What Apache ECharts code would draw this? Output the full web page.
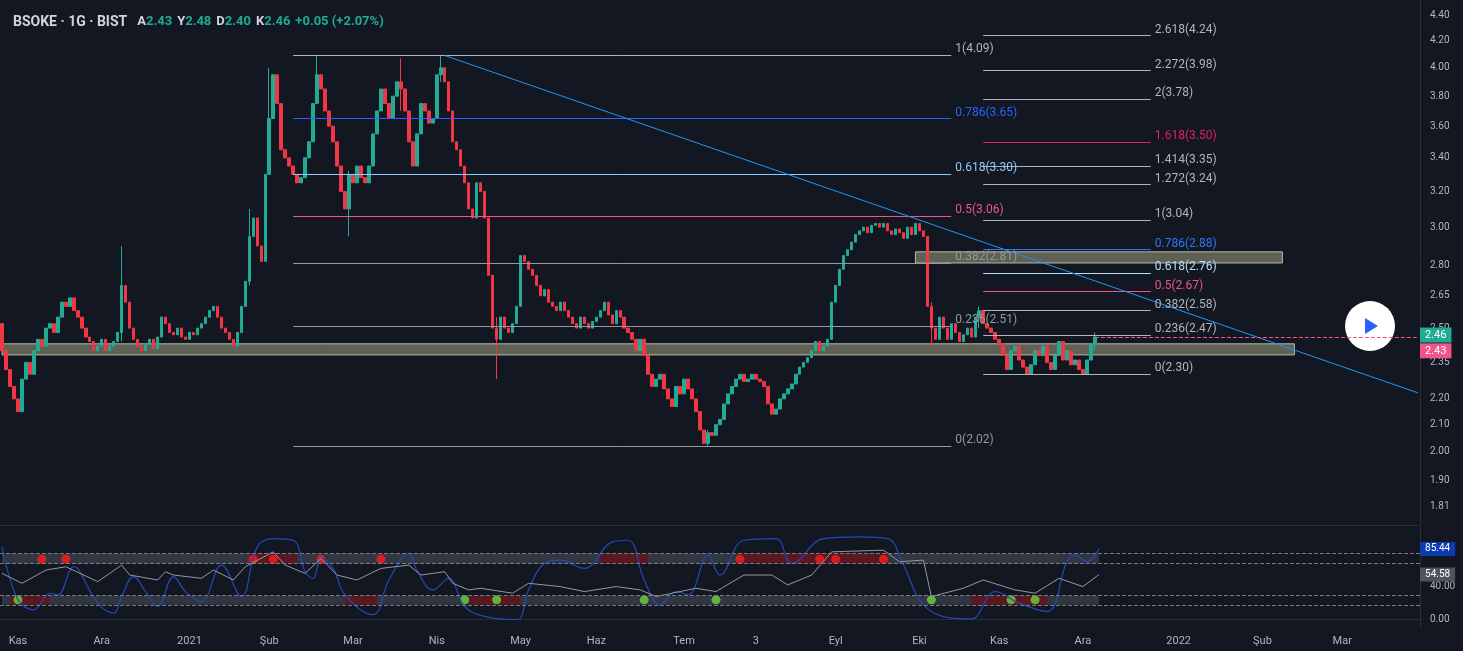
<!DOCTYPE html>
<html><head><meta charset="utf-8">
<script src="https://cdn.jsdelivr.net/npm/echarts@6/dist/echarts.min.js"></script>
<style>html,body{margin:0;background:#131722;}#c{width:1463px;height:651px;}</style>
</head><body><div id="c"></div>
<script>
const closes = [
2.40,2.32,2.25,2.20,2.15,2.28,2.35,2.30,2.40,2.45,
2.42,2.50,2.52,2.48,2.55,2.62,2.60,2.64,2.58,2.55,
2.50,2.46,2.44,2.40,2.42,2.45,2.40,2.42,2.44,2.48,
2.70,2.62,2.50,2.45,2.42,2.40,2.43,2.45,2.41,2.46,
2.55,2.52,2.48,2.47,2.50,2.46,2.45,2.48,2.47,2.50,
2.52,2.55,2.58,2.60,2.55,2.50,2.48,2.45,2.42,2.48,
2.60,2.72,2.95,3.05,2.90,2.82,3.30,3.65,3.95,3.75,
3.45,3.40,3.35,3.30,3.25,3.28,3.40,3.50,3.75,3.95,
3.85,3.70,3.60,3.50,3.35,3.20,3.10,3.30,3.25,3.35,
3.28,3.25,3.35,3.55,3.70,3.85,3.75,3.65,3.80,3.90,
3.85,3.70,3.50,3.35,3.55,3.75,3.70,3.62,3.65,3.95,
4.00,3.90,3.70,3.50,3.45,3.35,3.25,3.10,3.05,3.25,
3.20,3.05,2.75,2.50,2.45,2.55,2.50,2.48,2.52,2.60,
2.85,2.82,2.78,2.75,2.70,2.65,2.68,2.62,2.60,2.58,
2.62,2.58,2.55,2.52,2.50,2.55,2.52,2.50,2.53,2.55,
2.58,2.62,2.56,2.52,2.58,2.55,2.50,2.48,2.45,2.40,
2.45,2.38,2.30,2.25,2.28,2.30,2.24,2.20,2.17,2.25,
2.22,2.28,2.24,2.20,2.15,2.08,2.03,2.07,2.06,2.10,
2.12,2.18,2.22,2.25,2.28,2.30,2.27,2.28,2.30,2.28,
2.27,2.25,2.18,2.14,2.16,2.20,2.22,2.24,2.26,2.30,
2.33,2.35,2.37,2.40,2.44,2.40,2.42,2.45,2.62,2.70,
2.78,2.85,2.88,2.92,2.96,2.98,3.00,2.97,3.01,3.02,
3.00,3.02,2.98,2.96,2.99,2.97,2.94,3.00,2.96,3.02,
2.98,2.95,2.60,2.50,2.45,2.55,2.50,2.45,2.52,2.48,
2.44,2.47,2.50,2.46,2.55,2.58,2.52,2.50,2.48,2.45,
2.43,2.38,2.32,2.40,2.42,2.36,2.33,2.30,2.34,2.40,
2.38,2.42,2.35,2.32,2.38,2.44,2.36,2.40,2.34,2.36,
2.32,2.30,2.36,2.43,2.46];
const firstOpen = 2.52;
// notable wicks: [index, low, high]
const wicks = [[30,2.44,2.90],[62,2.70,3.10],[67,3.30,4.0],[79,3.75,4.09],[87,2.95,3.32],[100,3.70,4.07],[110,3.90,4.09],[124,2.28,2.55],[177,2.02,2.08],[233,2.42,2.62],[245,2.50,2.60],[274,2.40,2.48]];
const totalSlots = 356;
const monthTicks = {4:'Kas',25:'Ara',47:'2021',67:'Şub',88:'Mar',109:'Nis',130:'May',149:'Haz',171:'Tem',189:'3',209:'Eyl',230:'Eki',250:'Kas',271:'Ara',295:'2022',316:'Şub',336:'Mar'};
const priceTicks = [1.81,1.90,2.00,2.10,2.20,2.35,2.50,2.65,2.80,3.00,3.20,3.40,3.60,3.80,4.00,4.20,4.40];
const fibLeft = [['1(4.09)',4.09,'#b2b5be'],['0.786(3.65)',3.65,'#2962ff'],['0.618(3.30)',3.30,'#90caf9'],['0.5(3.06)',3.06,'#f0548a'],['0.382(2.81)',2.81,'#9598a1'],['0.236(2.51)',2.51,'#9598a1'],['0(2.02)',2.02,'#9598a1']];
const fibRight = [['2.618(4.24)',4.24,'#b2b5be'],['2.272(3.98)',3.98,'#b2b5be'],['2(3.78)',3.78,'#b2b5be'],['1.618(3.50)',3.50,'#e91e63'],['1.414(3.35)',3.35,'#b2b5be'],['1.272(3.24)',3.24,'#b2b5be'],['1(3.04)',3.04,'#b2b5be'],['0.786(2.88)',2.88,'#2979ff'],['0.618(2.76)',2.76,'#bbdefb'],['0.5(2.67)',2.67,'#f0548a'],['0.382(2.58)',2.58,'#b2b5be'],['0.236(2.47)',2.47,'#b2b5be'],['0(2.30)',2.30,'#b2b5be']];
const blueOsc = [[0,88],[4,24],[8,12],[12,32],[14,30],[18,64],[19,62],[24,20],[28,8],[30,28],[33,52],[36,34],[39,16],[43,52],[46,34],[50,22],[55,66],[60,28],[64,88],[68,98],[73,96],[76,58],[78,50],[80,74],[83,62],[86,30],[93,6],[97,48],[102,80],[104,60],[108,36],[112,50],[116,16],[121,4],[129,0],[132,36],[136,68],[140,72],[146,62],[153,94],[157,96],[161,48],[165,18],[169,34],[172,30],[177,78],[180,54],[186,96],[194,98],[198,68],[206,98],[215,100],[222,98],[226,66],[231,18],[238,2],[243,1],[249,34],[255,20],[262,10],[267,70],[269,78],[272,70],[275,86]];
const grayRsi = [[0,56],[5,44],[11,60],[16,64],[24,46],[30,66],[32,54],[39,48],[41,58],[43,54],[50,50],[53,60],[58,48],[61,64],[68,82],[71,66],[76,56],[80,74],[84,54],[89,48],[95,62],[102,66],[105,54],[111,58],[113,44],[117,36],[120,38],[128,32],[132,44],[140,40],[146,34],[154,40],[160,36],[164,28],[174,38],[179,34],[186,54],[193,54],[197,42],[203,54],[208,82],[221,84],[225,70],[231,72],[233,28],[241,38],[246,48],[254,36],[259,32],[265,50],[271,40],[275,54.58]];
const redDots = [[10,73],[16,73],[63,73],[68,73],[80,73],[95,73],[185,73],[205,73],[209,73],[221,73]];
const greenDots = [[4,24],[116,24],[124,24],[161,24],[179,24],[233,24],[253,24],[259,24]];

const cats = Array.from({length: totalSlots}, (_, i) => String(i));
const ohlc = closes.map((c, i) => {
  const o = i === 0 ? firstOpen : closes[i - 1];
  return [o, c, Math.min(o, c), Math.max(o, c)];
});
wicks.forEach(([i, l, h]) => { ohlc[i][2] = Math.min(ohlc[i][2], l); ohlc[i][3] = Math.max(ohlc[i][3], h); });
const last = closes.length - 1;

const lblUp = (t, col) => ({show: true, formatter: t, color: col, fontSize: 12, fontFamily: 'Roboto', position: 'end', distance: 4, offset: [0, -6]});
const tag = (t, bg, fs, dy) => ({show: true, position: 'end', distance: 2, offset: [0, dy || 0], formatter: t, color: '#fff', backgroundColor: bg, padding: [2, 5], fontSize: fs, fontFamily: 'Roboto'});
const hidden = {color: 'rgba(0,0,0,0)', width: 0, type: 'solid'};
const fibLines = [];
fibLeft.forEach(([t, p, col]) => fibLines.push([{coord: ['73', p], lineStyle: {color: col, width: 1, type: 'solid'}, label: lblUp(t, col)}, {coord: ['238', p]}]));
fibRight.forEach(([t, p, col]) => fibLines.push([{coord: ['246', p], lineStyle: {color: col, width: 1, type: 'solid'}, label: lblUp(t, col)}, {coord: ['288', p]}]));
fibLines.push([{coord: ['111', 4.09], lineStyle: {color: '#2196f3', width: 1, type: 'solid'}, label: {show: false}}, {coord: ['355', 2.224]}]);
fibLines.push([{coord: [String(last), 2.46], lineStyle: {color: '#f0548a', width: 1, type: 'dashed'}, label: tag('2.46', '#22ab94', 11, -2)}, {coord: ['355', 2.46]}]);
fibLines.push([{coord: ['300', 2.43], lineStyle: hidden, label: tag('2.43', '#f0548a', 11, 7)}, {coord: ['355', 2.43]}]);

const chart = echarts.init(document.getElementById('c'));
chart.setOption({
  backgroundColor: '#131722',
  animation: false,
  title: {left: 8, top: 8, text: '{n|BSOKE · 1G · BIST}  {k|A}{v|2.43} {k|Y}{v|2.48} {k|D}{v|2.40} {k|K}{v|2.46} {v|+0.05 (+2.07%)}',
    textStyle: {rich: {n: {color: '#d1d4dc', fontSize: 14, fontFamily: 'Roboto'}, k: {color: '#d1d4dc', fontSize: 13, fontFamily: 'Roboto'}, v: {color: '#22ab94', fontSize: 13, fontFamily: 'Roboto'}}}},
  grid: [{left: 0, right: 43, top: 0, height: 525}, {left: 0, right: 43, top: 527, height: 101}],
  xAxis: [
    {type: 'category', data: cats, gridIndex: 0, boundaryGap: true, axisLine: {show: true, onZero: false, lineStyle: {color: '#2a2e39'}}, axisTick: {show: false}, axisLabel: {show: false}, splitLine: {show: false}},
    {type: 'category', data: cats, gridIndex: 1, boundaryGap: true, axisLine: {show: true, lineStyle: {color: '#2a2e39'}}, axisTick: {show: false},
      axisLabel: {interval: (i) => monthTicks[i] !== undefined, formatter: (v) => monthTicks[+v] || '', color: '#b2b5be', fontSize: 11, fontFamily: 'Roboto', margin: 8}, splitLine: {show: false}}
  ],
  yAxis: [
    {type: 'log', gridIndex: 0, position: 'right', min: 1.752, max: 4.521, axisLine: {show: true, lineStyle: {color: '#2a2e39'}}, axisTick: {show: false}, splitLine: {show: false},
      axisLabel: {customValues: priceTicks, formatter: (v) => v.toFixed(2), color: '#b2b5be', fontSize: 10, fontFamily: 'Roboto', margin: 10}},
    {type: 'value', gridIndex: 1, position: 'right', min: -10, max: 112, axisLine: {show: true, lineStyle: {color: '#2a2e39'}}, axisTick: {show: false}, splitLine: {show: false},
      axisLabel: {customValues: [0, 40], formatter: (v) => v.toFixed(2), color: '#b2b5be', fontSize: 10, fontFamily: 'Roboto', margin: 10}}
  ],
  series: [
    {type: 'candlestick', xAxisIndex: 0, yAxisIndex: 0, data: ohlc, barWidth: 3,
      itemStyle: {color: '#22ab94', color0: '#f23645', borderColor: '#22ab94', borderColor0: '#f23645', borderWidth: 1},
      markLine: {silent: true, symbol: ['none', 'none'], data: fibLines},
      markArea: {silent: true, data: [
        [{coord: ['0', 2.43], itemStyle: {color: 'rgba(120,123,100,0.75)', borderColor: '#b8b8a8', borderWidth: 1}}, {coord: ['324', 2.382]}],
        [{coord: ['229', 2.869], itemStyle: {color: 'rgba(120,123,100,0.75)', borderColor: '#b8b8a8', borderWidth: 1}}, {coord: ['321', 2.812]}]
      ]}},
    {type: 'line', xAxisIndex: 1, yAxisIndex: 1, data: blueOsc, smooth: 0.4, showSymbol: false, lineStyle: {color: '#2448b8', width: 1.2},
      markArea: {silent: true, itemStyle: {color: 'rgba(54,58,69,0.9)'}, data: [
        [{coord: ['0', 80]}, {coord: ['275', 68]}], [{coord: ['0', 29]}, {coord: ['275', 18]}],
        [{coord: ['62', 80], itemStyle: {color: 'rgba(100,18,25,0.8)'}}, {coord: ['74', 68]}],
        [{coord: ['150', 80], itemStyle: {color: 'rgba(100,18,25,0.8)'}}, {coord: ['162', 68]}],
        [{coord: ['185', 80], itemStyle: {color: 'rgba(100,18,25,0.8)'}}, {coord: ['222', 68]}],
        [{coord: ['2', 29], itemStyle: {color: 'rgba(100,18,25,0.8)'}}, {coord: ['12', 18]}],
        [{coord: ['243', 29], itemStyle: {color: 'rgba(100,18,25,0.8)'}}, {coord: ['262', 18]}],
        [{coord: ['117', 29], itemStyle: {color: 'rgba(100,18,25,0.8)'}}, {coord: ['130', 18]}],
        [{coord: ['86', 29], itemStyle: {color: 'rgba(100,18,25,0.8)'}}, {coord: ['94', 18]}]
      ]},
      markLine: {silent: true, symbol: ['none', 'none'], lineStyle: {color: '#787b86', type: 'dashed', width: 1}, label: {show: false}, data: [
        {yAxis: 80}, {yAxis: 68}, {yAxis: 29}, {yAxis: 18},
        [{coord: ['300', 85.44], lineStyle: hidden, label: tag('85.44', '#0d3cb0', 10)}, {coord: ['355', 85.44]}],
        [{coord: ['300', 54.58], lineStyle: hidden, label: tag('54.58', '#50535e', 10)}, {coord: ['355', 54.58]}]
      ]}},
    {type: 'line', xAxisIndex: 1, yAxisIndex: 1, data: grayRsi, showSymbol: false, lineStyle: {color: '#9598a1', width: 1}},
    {type: 'scatter', xAxisIndex: 1, yAxisIndex: 1, data: redDots, symbolSize: 9, itemStyle: {color: '#ff1a1a'}},
    {type: 'scatter', xAxisIndex: 1, yAxisIndex: 1, data: greenDots, symbolSize: 9, itemStyle: {color: '#6dd63a'}}
  ],
  graphic: [
    {type: 'circle', shape: {cx: 1370, cy: 326, r: 25}, style: {fill: '#ffffff'}},
    {type: 'polygon', shape: {points: [[1365, 318], [1365, 334], [1378, 326]]}, style: {fill: '#2962ff'}}
  ]
});
</script></body></html>
